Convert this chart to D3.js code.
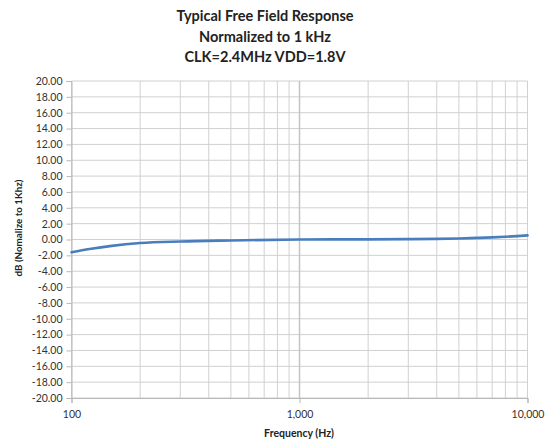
<!DOCTYPE html>
<html>
<head>
<meta charset="utf-8">
<script src="https://cdn.jsdelivr.net/npm/d3@7"></script>
<style>
body{margin:0;background:#fff;}
text{font-family:Lato,"Open Sans",sans-serif;}
</style>
</head>
<body>
<svg id="c" width="549" height="442"></svg>
<script>
const titleLines = ["Typical Free Field Response","Normalized to 1 kHz","CLK=2.4MHz VDD=1.8V"];
const freqs = [100,120,150,200,300,500,1000,2000,3000,4000,5000,6000,7000,8000,9000,10000];
const dbValues = [-1.6,-1.2,-0.8,-0.45,-0.25,-0.12,0,0.02,0.05,0.08,0.13,0.2,0.27,0.35,0.43,0.52];
const yTicks = d3.range(-20,20.01,2);
const xTickLabels = [100,1000,10000];
const xGrid = [100,200,300,400,500,600,700,800,900,1000,2000,3000,4000,5000,6000,7000,8000,9000,10000];
const xTitle = "Frequency (Hz)";
const yTitle = "dB (Nomalize to 1Khz)";

const svg = d3.select("#c");
const L=71.5,R=527.5,T=81,B=398;
const x = d3.scaleLog().domain([100,10000]).range([L,R]);
const y = d3.scaleLinear().domain([-20,20]).range([B,T]);

// grid
svg.append("g").selectAll("line").data(yTicks).join("line")
  .attr("x1",L).attr("x2",R).attr("y1",d=>y(d)).attr("y2",d=>y(d))
  .attr("stroke","#d0d0d0").attr("stroke-width",1);
svg.append("g").selectAll("line").data(xGrid).join("line")
  .attr("x1",d=>x(d)).attr("x2",d=>x(d)).attr("y1",T).attr("y2",B)
  .attr("stroke",d=>(d===1000)?"#c4c4c4":"#d0d0d0").attr("stroke-width",d=>(d===1000)?1.5:1);

// axes
const yAxis = d3.axisLeft(y).tickValues(yTicks).tickSize(5).tickPadding(4).tickFormat(d3.format(".2f"));
const gy = svg.append("g").attr("transform",`translate(${L},0)`).call(yAxis);
gy.select(".domain").attr("stroke","#b8b8b8");
gy.selectAll(".tick line").attr("stroke","#b8b8b8");
gy.selectAll("text").attr("font-size",10.5).attr("fill","#333").attr("font-family","Lato,sans-serif")
  .text(d=>d3.format(".2f")(d).replace("−","-"));

const xAxis = d3.axisBottom(x).tickValues(xTickLabels).tickSize(5).tickPadding(8).tickFormat(d3.format(","));
const gx = svg.append("g").attr("transform",`translate(0,${B})`).call(xAxis);
gx.select(".domain").attr("stroke","#b8b8b8");
gx.selectAll(".tick line").attr("stroke","#b8b8b8");
gx.selectAll("text").attr("font-size",10.5).attr("fill","#333").attr("font-family","Lato,sans-serif");

// line
const line = d3.line().x((d,i)=>x(freqs[i])).y(d=>y(d)).curve(d3.curveMonotoneX);
svg.append("path").datum(dbValues).attr("d",line)
  .attr("fill","none").attr("stroke","#4a7ebb").attr("stroke-width",2.6).attr("stroke-linecap","round");

// titles
svg.append("g").selectAll("text").data(titleLines).join("text")
  .attr("x",265).attr("y",(d,i)=>21+i*20.5).attr("text-anchor","middle")
  .attr("font-size",14.5).attr("font-weight","bold").attr("fill","#222").text(d=>d);

svg.append("text").attr("x",299).attr("y",437).attr("text-anchor","middle")
  .attr("font-size",10.5).attr("font-weight","bold").attr("fill","#222").text(xTitle);

svg.append("text").attr("transform","translate(22,228) rotate(-90)").attr("text-anchor","middle")
  .attr("font-size",9.8).attr("font-weight","bold").attr("fill","#222").text(yTitle);
</script>
</body>
</html>
